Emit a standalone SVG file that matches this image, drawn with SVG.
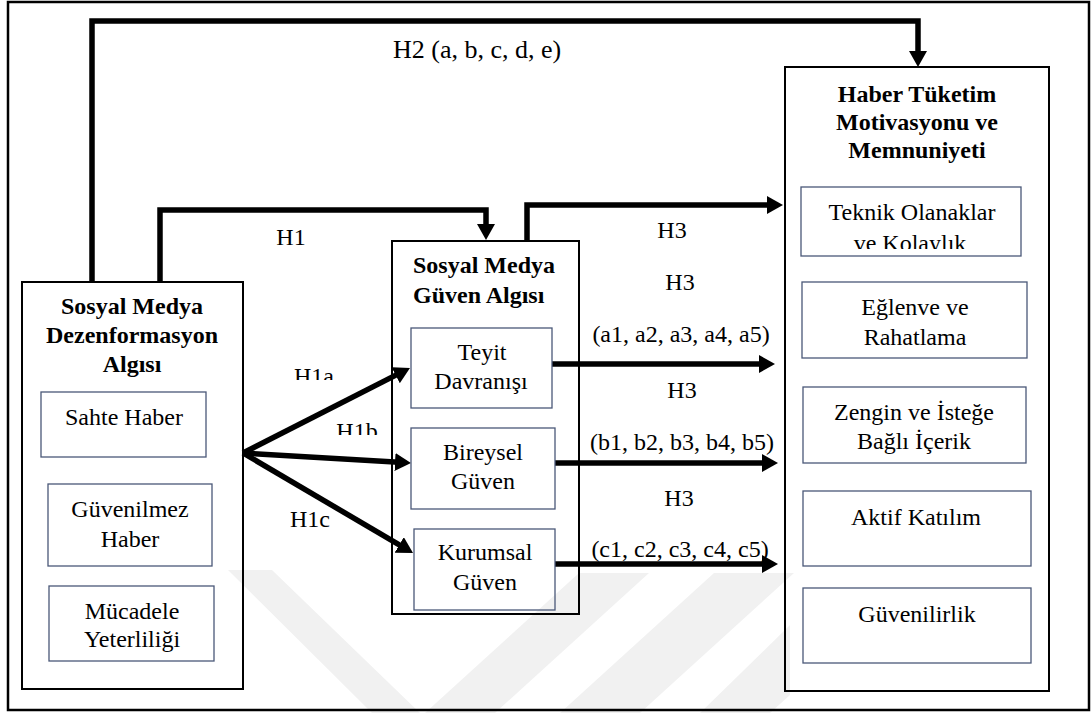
<svg xmlns="http://www.w3.org/2000/svg" width="1091" height="713" viewBox="0 0 1091 713">
  <style>
    .box { fill: none; stroke: #000; stroke-width: 2; }
    .sub { fill: none; stroke: #4a5878; stroke-width: 1.3; }
    .t { font-family: "Liberation Serif", "Times New Roman", serif; font-size: 24px; fill: #000; }
    .b { font-family: "Liberation Serif", "Times New Roman", serif; font-size: 24px; font-weight: bold; fill: #000; }
    .c { text-anchor: middle; }
    .conn { fill: none; stroke: #000; stroke-width: 5.5; stroke-linejoin: miter; stroke-linecap: butt; }
    .wm { fill: #f1f1f1; }
  </style>
  <defs>
    <marker id="ah" viewBox="0 0 16 18" refX="4" refY="9" markerWidth="16" markerHeight="18" markerUnits="userSpaceOnUse" orient="auto">
      <path d="M0,0 L16,9 L0,18 Z" fill="#000"/>
    </marker>
    <clipPath id="clipKol"><rect x="800" y="225" width="222" height="24"/></clipPath>
    <clipPath id="clipH1a"><rect x="280" y="355" width="70" height="25"/></clipPath>
    <clipPath id="clipH1b"><rect x="320" y="410" width="75" height="25"/></clipPath>
  </defs>

  <rect x="0" y="0" width="1091" height="713" fill="#fff"/>

  <g id="watermark">
    <polygon class="wm" points="228,570 272,570 420,713 372,713"/>
    <polygon class="wm" points="425,713 495,713 649,573 579,573"/>
    <polygon class="wm" points="560,713 640,713 794,573 714,573"/>
    <polygon class="wm" points="700,713 770,713 790,695 790,625"/>
  </g>

  <rect id="frame" x="8" y="2" width="1081" height="708" fill="none" stroke="#000" stroke-width="2.5"/>

  <g id="connectors">
    <path class="conn" d="M92,282 V21 H918 V55" marker-end="url(#ah)"/>
    <path class="conn" d="M160,282 V210 H486 V228" marker-end="url(#ah)"/>
    <path class="conn" d="M527,241 V205 H771" marker-end="url(#ah)"/>
    <path class="conn" d="M552,364 H763" marker-end="url(#ah)"/>
    <path class="conn" d="M555,463 H766" marker-end="url(#ah)"/>
    <path class="conn" d="M555,564 H766" marker-end="url(#ah)"/>
    <path class="conn" d="M243,453 L399.3,373.4" marker-end="url(#ah)"/>
    <path class="conn" d="M243,453 L399,462.3" marker-end="url(#ah)"/>
    <path class="conn" d="M243,453 L402.7,546.9" marker-end="url(#ah)"/>
  </g>

  <g id="labels">
    <text class="t" x="393" y="58" style="font-size:26px">H2 (a, b, c, d, e)</text>
    <text class="t c" x="291" y="245">H1</text>
    <g clip-path="url(#clipH1a)"><text class="t c" x="314" y="384">H1a</text></g>
    <g clip-path="url(#clipH1b)"><text class="t c" x="357" y="439">H1b</text></g>
    <text class="t c" x="310" y="527">H1c</text>
    <text class="t c" x="672" y="238">H3</text>
    <text class="t c" x="680" y="290">H3</text>
    <text class="t c" x="681" y="342">(a1, a2, a3, a4, a5)</text>
    <text class="t c" x="682" y="398">H3</text>
    <text class="t c" x="682" y="450">(b1, b2, b3, b4, b5)</text>
    <text class="t c" x="679" y="506">H3</text>
    <text class="t c" x="680" y="557">(c1, c2, c3, c4, c5)</text>
  </g>

  <g id="node-dezenformasyon">
    <rect class="box" x="22" y="282" width="221" height="407"/>
    <text class="b c" x="132" y="314">Sosyal Medya</text>
    <text class="b c" x="132" y="343">Dezenformasyon</text>
    <text class="b c" x="132" y="372">Algısı</text>
  </g>
  <g id="node-sahte-haber">
    <rect class="sub" x="41" y="392" width="165" height="65"/>
    <text class="t c" x="124" y="425">Sahte Haber</text>
  </g>
  <g id="node-guvenilmez-haber">
    <rect class="sub" x="48" y="484" width="164" height="82"/>
    <text class="t c" x="130" y="517">Güvenilmez</text>
    <text class="t c" x="130" y="547">Haber</text>
  </g>
  <g id="node-mucadele">
    <rect class="sub" x="49" y="586" width="165" height="75"/>
    <text class="t c" x="132" y="619">Mücadele</text>
    <text class="t c" x="132" y="647">Yeterliliği</text>
  </g>

  <g id="node-guven-algisi">
    <rect class="box" x="392" y="241" width="187" height="373"/>
    <text class="b" x="413" y="273">Sosyal Medya</text>
    <text class="b" x="413" y="303">Güven Algısı</text>
  </g>
  <g id="node-teyit">
    <rect class="sub" x="411" y="328" width="141" height="80"/>
    <text class="t c" x="482" y="360">Teyit</text>
    <text class="t c" x="481" y="389">Davranışı</text>
  </g>
  <g id="node-bireysel">
    <rect class="sub" x="411" y="428" width="144" height="81"/>
    <text class="t c" x="483" y="460">Bireysel</text>
    <text class="t c" x="483" y="489">Güven</text>
  </g>
  <g id="node-kurumsal">
    <rect class="sub" x="414" y="529" width="141" height="81"/>
    <text class="t c" x="485" y="560">Kurumsal</text>
    <text class="t c" x="485" y="590">Güven</text>
  </g>

  <g id="node-haber-tuketim">
    <rect class="box" x="785" y="67" width="264" height="624"/>
    <text class="b c" x="917" y="102">Haber Tüketim</text>
    <text class="b c" x="917" y="130">Motivasyonu ve</text>
    <text class="b c" x="917" y="158">Memnuniyeti</text>
  </g>
  <g id="node-teknik">
    <rect class="sub" x="801" y="187" width="220" height="69"/>
    <text class="t c" x="912" y="220">Teknik Olanaklar</text>
    <g clip-path="url(#clipKol)"><text class="t c" x="910" y="251">ve Kolaylık</text></g>
  </g>
  <g id="node-eglence">
    <rect class="sub" x="802" y="282" width="225" height="76"/>
    <text class="t c" x="915" y="315">Eğlenve ve</text>
    <text class="t c" x="915" y="345">Rahatlama</text>
  </g>
  <g id="node-zengin">
    <rect class="sub" x="803" y="387" width="223" height="76"/>
    <text class="t c" x="914" y="420">Zengin ve İsteğe</text>
    <text class="t c" x="914" y="449">Bağlı İçerik</text>
  </g>
  <g id="node-aktif">
    <rect class="sub" x="803" y="491" width="228" height="75"/>
    <text class="t c" x="916" y="525">Aktif Katılım</text>
  </g>
  <g id="node-guvenilirlik">
    <rect class="sub" x="803" y="588" width="228" height="75"/>
    <text class="t c" x="917" y="622">Güvenilirlik</text>
  </g>
</svg>
